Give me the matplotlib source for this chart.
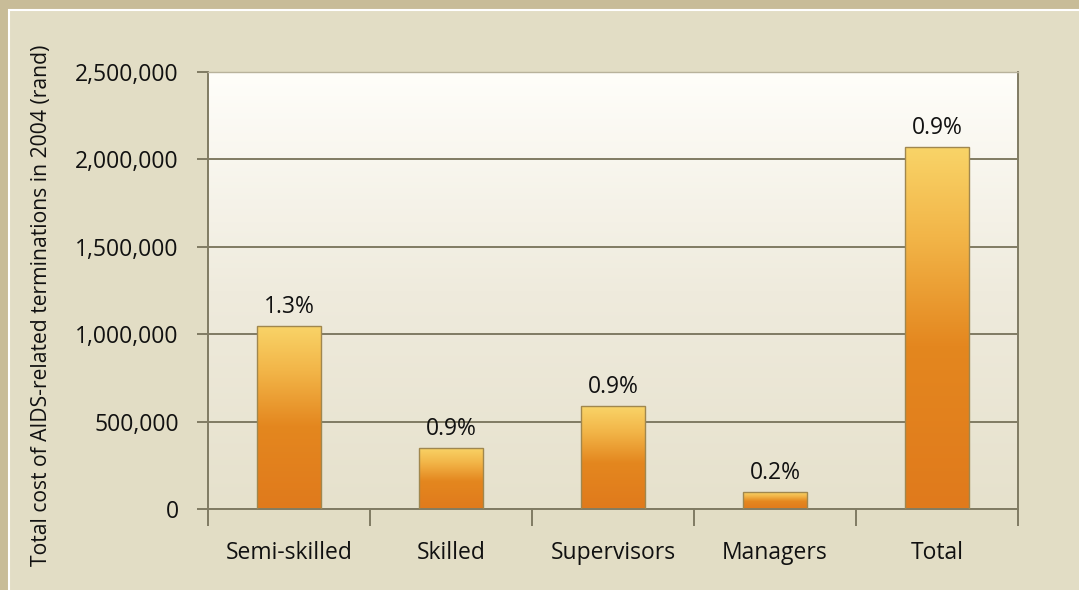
import numpy as np
import matplotlib
matplotlib.use("Agg")
import matplotlib.pyplot as plt
from matplotlib.colors import LinearSegmentedColormap
from matplotlib.patches import Rectangle
from matplotlib.ticker import FuncFormatter

categories = ["Semi-skilled", "Skilled", "Supervisors", "Managers", "Total"]
costs = [1047000, 349000, 589000, 97000, 2071000]
pct_labels = ["1.3%", "0.9%", "0.9%", "0.2%", "0.9%"]
y_ticks = [0, 500000, 1000000, 1500000, 2000000, 2500000]

plt.rcParams['font.family'] = ['Open Sans', 'DejaVu Sans']

fig = plt.figure(figsize=(10.79, 5.9), dpi=100)
fig.patch.set_facecolor('#c8bc98')
# inner panel with white outline
fig.patches.append(Rectangle((9 / 1079, -0.01), 1.02, 1 - 10 / 590 + 0.01,
                             transform=fig.transFigure, facecolor='#e2ddc5',
                             edgecolor='white', linewidth=1.5, zorder=-5))

ax = fig.add_axes([208 / 1079, 81 / 590, 810 / 1079, 437 / 590])
ax.set_facecolor('none')

# plot area background gradient
bg = LinearSegmentedColormap.from_list('bg', ['#e6e1cc', '#efebdd', '#fffefa'])
ax.imshow(np.linspace(0, 1, 256).reshape(-1, 1), cmap=bg, origin='lower',
          extent=[0, 1, 0, 1], transform=ax.transAxes, aspect='auto', zorder=0)

x = np.arange(len(categories))
bars = ax.bar(x, costs, width=0.4, color='none', edgecolor='#a0874e',
              linewidth=1.0, zorder=3)

bar_cmap = LinearSegmentedColormap.from_list(
    'bar', [(0, '#e07a1c'), (0.45, '#e4871f'), (0.75, '#f2b548'), (1, '#f9d468')])
for b in bars:
    x0, w, h = b.get_x(), b.get_width(), b.get_height()
    im = ax.imshow(np.linspace(0, 1, 256).reshape(-1, 1), cmap=bar_cmap,
                   origin='lower', extent=[x0, x0 + w, 0, h], aspect='auto',
                   zorder=2)
    im.set_clip_path(b)

ax.bar_label(bars, labels=pct_labels, padding=5, fontsize=16.5, color='#111111')

ax.set_xlim(-0.5, len(categories) - 0.5)
ax.set_ylim(0, 2500000)
ax.set_yticks(y_ticks)
ax.yaxis.set_major_formatter(FuncFormatter(lambda v, p: f"{int(v):,}"))
ax.set_xticks(x)
ax.set_xticklabels(categories)
ax.set_xticks(np.arange(-0.5, len(categories)), minor=True)

line_c = '#807b63'
ax.grid(axis='y', color=line_c, linewidth=1.4, zorder=1)
ax.set_axisbelow(True)
for s in ax.spines.values():
    s.set_color(line_c)
    s.set_linewidth(1.4)
ax.spines['top'].set_color('#b8b29c')
ax.spines['top'].set_linewidth(1.0)

ax.tick_params(axis='y', length=8, width=1.4, color=line_c, labelsize=16.5,
               pad=13, labelcolor='#111111')
ax.tick_params(axis='x', which='major', length=0, pad=23, labelsize=16.5,
               labelcolor='#111111')
ax.tick_params(axis='x', which='minor', length=12, width=1.4, color=line_c)

fig.text(42 / 1079, 0.482, "Total cost of AIDS-related terminations in 2004 (rand)",
         rotation=90, ha='center', va='center', fontsize=15.2, color='#111111')

fig.savefig("out.png", dpi=100, facecolor=fig.get_facecolor())
